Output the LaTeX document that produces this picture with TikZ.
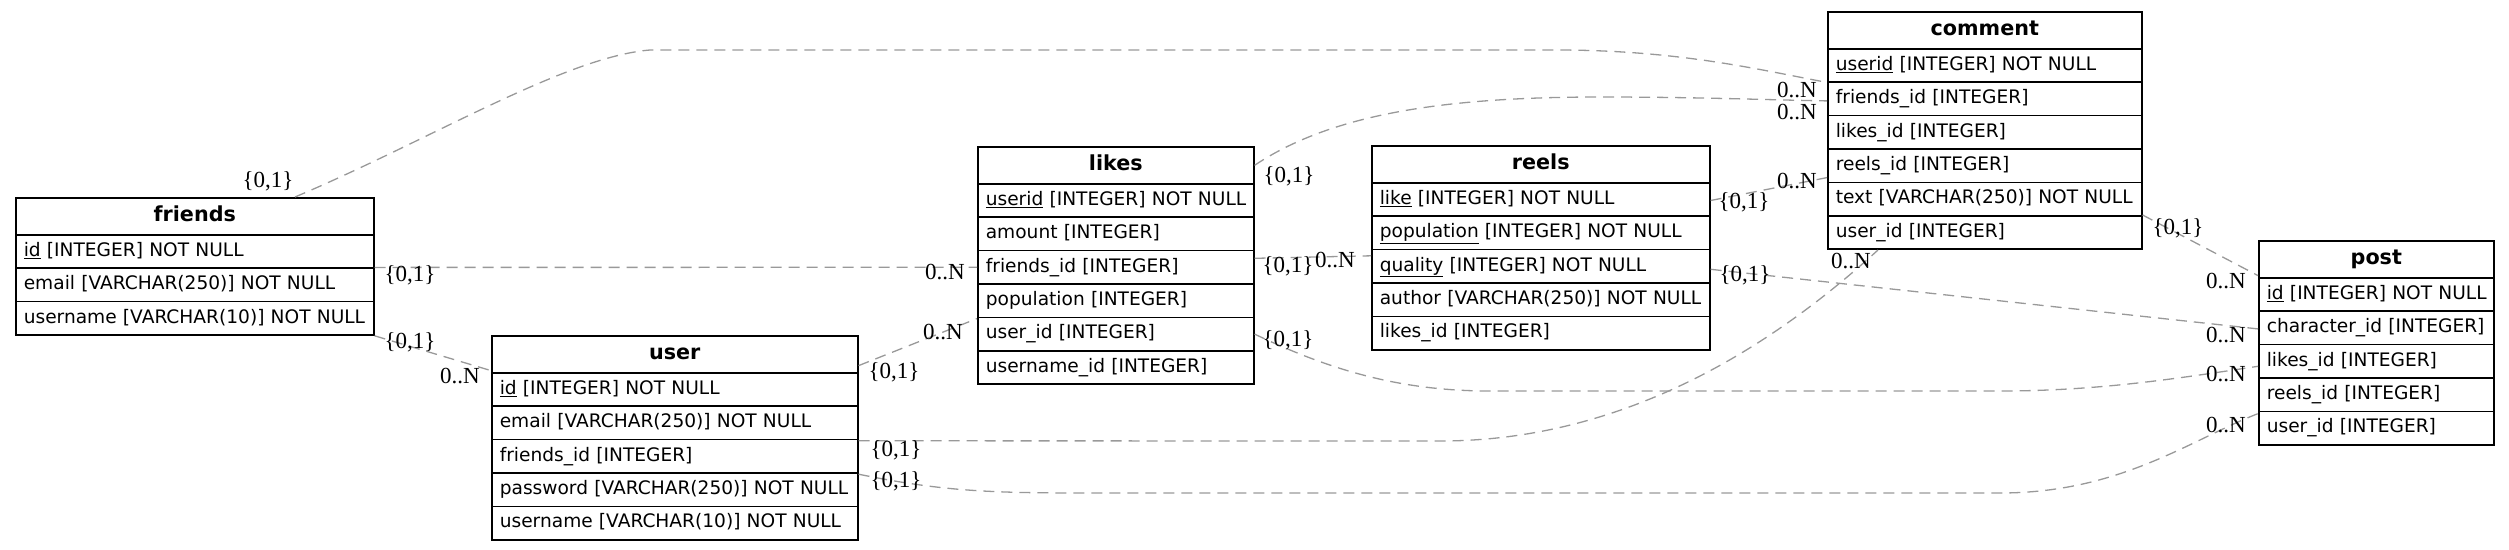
\documentclass[tikz,border=0pt]{standalone}
\usepackage{fontspec}
\usetikzlibrary{calc}
\newfontfamily\tfont{DejaVu Sans}
\newfontfamily\lfont{Liberation Serif}
\tikzset{
  hdr/.style={draw, line width=1.6pt, anchor=north west, inner sep=0pt, minimum height=37pt,
    font=\tfont\bfseries\fontsize{20.7}{24}\selectfont, text height=15pt, text depth=4pt},
  fld/.style={draw, line width=1.6pt, anchor=north west, inner xsep=8pt, inner ysep=0pt,
    minimum height=33.4pt, font=\tfont\fontsize{18.6}{22}\selectfont,
    text height=13.5pt, text depth=4pt, align=left},
  rel/.style={draw=black!40, line width=1.3pt, dash pattern=on 11pt off 7pt},
  card/.style={font=\lfont\fontsize{23}{23}\selectfont, inner sep=0pt, anchor=center},
}
\newcommand\ertable[6]{%
  \node[hdr, minimum width=#4pt] (#1) at (#2,#3) {#5};
  \pgfmathsetmacro\ertw{#4-16}%
  \foreach \rowtext [count=\i] in {#6} {
    \pgfmathsetmacro\ery{#3+37+(\i-1)*33.4}
    \node[fld, minimum width=#4pt, text width=\ertw pt] (#1-\i) at (#2,\ery) {\mbox{\rowtext}};
  }
}
\begin{document}
\begin{tikzpicture}[x=1pt,y=-1pt]
\useasboundingbox (0,0) rectangle (2509,549);
\ertable{friends}{15}{197}{358}{friends}{\underline{id} [INTEGER] NOT NULL, email [VARCHAR(250)] NOT NULL, username [VARCHAR(10)] NOT NULL}
\ertable{user}{491}{335}{366}{user}{\underline{id} [INTEGER] NOT NULL, email [VARCHAR(250)] NOT NULL, friends\_id [INTEGER], password [VARCHAR(250)] NOT NULL, username [VARCHAR(10)] NOT NULL}
\ertable{likes}{977}{146}{276}{likes}{\underline{userid} [INTEGER] NOT NULL, amount [INTEGER], friends\_id [INTEGER], population [INTEGER], user\_id [INTEGER], username\_id [INTEGER]}
\ertable{reels}{1371}{145}{338}{reels}{\underline{like} [INTEGER] NOT NULL, \underline{population} [INTEGER] NOT NULL, \underline{quality} [INTEGER] NOT NULL, author [VARCHAR(250)] NOT NULL, likes\_id [INTEGER]}
\ertable{comment}{1827}{11}{314}{comment}{\underline{userid} [INTEGER] NOT NULL, friends\_id [INTEGER], likes\_id [INTEGER], reels\_id [INTEGER], text [VARCHAR(250)] NOT NULL, user\_id [INTEGER]}
\ertable{post}{2258}{240}{235}{post}{\underline{id} [INTEGER] NOT NULL, character\_id [INTEGER], likes\_id [INTEGER], reels\_id [INTEGER], user\_id [INTEGER]}

% connectors
\draw[rel] ($(friends.north west)+(280,0)$) .. controls (430,140) and (565,57) .. (650,50) -- (1556,50) .. controls (1680,50) and (1760,70) .. ($(comment-2.north west)+(0,1)$);
\draw[rel] (likes.east) .. controls (1330,115) and (1440,97) .. (1600,97) .. controls (1700,97) and (1770,100) .. ($(comment-2.west)+(0,2)$);
\draw[rel] (friends-2.north east) -- (likes-3.west);
\draw[rel] (friends-3.south east) -- ($(user.south west)+(0,-3)$);
\draw[rel] ($(user.south east)+(0,-8)$) -- ($(likes-5.north west)+(0,2)$);
\draw[rel] ($(user-3.north east)+(0,2)$) -- (1440,441) .. controls (1640,441) and (1790,330) .. ($(comment-6.south west)+(51,0)$);
\draw[rel] ($(user-4.north east)+(0,2)$) .. controls (950,493) and (1000,493) .. (1108,493) -- (2000,493) .. controls (2120,493) and (2190,440) .. ($(post-5.north west)+(0,3)$);
\draw[rel] (likes-5.east) .. controls (1330,370) and (1400,391) .. (1490,391) -- (2000,391) .. controls (2100,391) and (2180,378) .. ($(post-3.west)+(0,5)$);
\draw[rel] ($(likes-3.east)+(0,-9)$) -- ($(reels-3.north west)+(0,7)$);
\draw[rel] ($(reels-1.east)+(0,1)$) -- ($(comment-5.north west)+(0,-4)$);
\draw[rel] ($(reels-3.east)+(0,3)$) -- ($(post-2.west)+(0,1)$);
\draw[rel] (comment-6.north east) -- ($(post.south west)+(0,-3)$);

% cardinality labels
\node[card] (c1a) at (268,181) {\{0,1\}};
\node[card] (c1b) at (1797,90) {0..N};
\node[card] (c2a) at (1289,176) {\{0,1\}};
\node[card] (c2b) at (1797,112) {0..N};
\node[card] (c3a) at (410,275) {\{0,1\}};
\node[card] (c3b) at (945,272) {0..N};
\node[card] (c4a) at (410,342) {\{0,1\}};
\node[card] (c4b) at (460,376) {0..N};
\node[card] (c5a) at (894,372) {\{0,1\}};
\node[card] (c5b) at (943,332) {0..N};
\node[card] (c6a) at (896,450) {\{0,1\}};
\node[card] (c6b) at (1851,261) {0..N};
\node[card] (c7a) at (896,481) {\{0,1\}};
\node[card] (c7b) at (2226,425) {0..N};
\node[card] (c8a) at (1288,340) {\{0,1\}};
\node[card] (c8b) at (2226,374) {0..N};
\node[card] (c9a) at (1288,266) {\{0,1\}};
\node[card] (c9b) at (1335,260) {0..N};
\node[card] (c10a) at (1744,202) {\{0,1\}};
\node[card] (c10b) at (1797,181) {0..N};
\node[card] (c11a) at (1745,275) {\{0,1\}};
\node[card] (c11b) at (2226,335) {0..N};
\node[card] (c12a) at (2178,228) {\{0,1\}};
\node[card] (c12b) at (2226,281) {0..N};
\end{tikzpicture}
\end{document}
